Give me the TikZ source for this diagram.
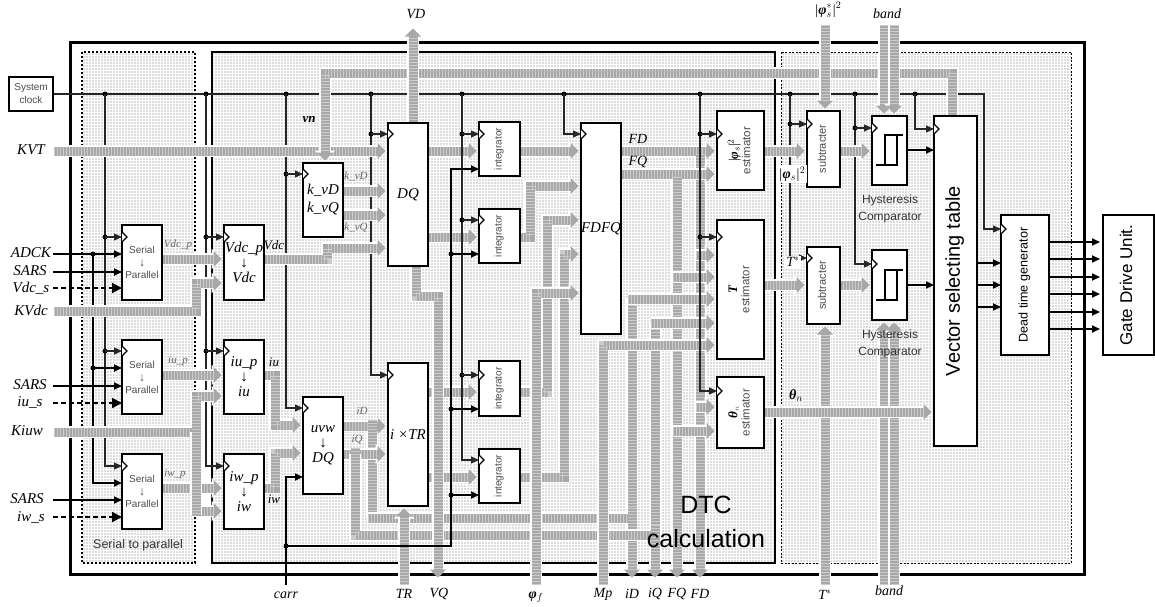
\documentclass[tikz,border=0pt]{standalone}
\usepackage{fontspec}
\setmainfont{Liberation Serif}
\newfontfamily\gsans{Liberation Sans}
\usetikzlibrary{arrows.meta,patterns.meta,calc}
\pgfdeclarelayer{bg}\pgfdeclarelayer{under}\pgfdeclarelayer{bus}\pgfdeclarelayer{over}
\pgfsetlayers{bg,under,bus,over,main}
\newcommand\fsz[1]{\fontsize{#1}{#1}\selectfont}
\definecolor{busc}{gray}{0.66}
\definecolor{busd}{gray}{0.80}
\tikzset{
 ln/.style={line width=1.1pt,black!85},
 thk/.style={line width=1.7pt,black},
 arr/.style={-{Triangle[length=8pt,width=7pt]}},
 dsh/.style={line width=2pt,dash pattern=on 5pt off 3pt,black},
 busp/.style={line width=9pt,busc,line join=miter,postaction={draw=busd,line width=9pt,dash pattern=on 1pt off 2pt,-}},
 bus/.style={line width=9pt,busc,line join=miter,shorten >=2.5pt,-{Triangle[width=16pt,length=8pt]},
   preaction={draw=white,line width=11.5pt,-{Triangle[width=20pt,length=10pt]}},
   postaction={draw=busd,line width=9pt,dash pattern=on 1pt off 2pt,-,shorten >=10.5pt}},
 busl/.style={busp,preaction={draw=white,line width=11.5pt}},
 dot/.style={circle,fill=black,inner sep=0pt,minimum size=5pt},
 block/.style={draw,fill=white,line width=1.5pt,inner sep=0pt,outer sep=0pt,anchor=north west,align=center},
 ser/.style={block,gsn},
 gsn/.style={font=\gsans\fsz{10},text=black!70},
 it/.style={font=\itshape\fsz{15}},
 lab/.style={font=\itshape\fsz{14},inner sep=0pt},
 sml/.style={font=\itshape\fsz{11},inner sep=0pt,text=black!60},
 sl/.style={font=\gsans\fsz{12},inner sep=0pt,text=black!80,align=center},
 area/.style={pattern={Dots[distance=3pt,radius=0.55pt]},pattern color=black!60},
}
\newcommand\blk[6][block]{%
 \pgfmathsetmacro\bw{#4-#2}\pgfmathsetmacro\bh{#5-#3}%
 \node[#1,minimum width=\bw pt,minimum height=\bh pt] (#6) at (#2,#3) }
\newcommand\clk[2]{\draw[line width=1.1pt,fill=white] ($(#1.west|-0,#2)+(0,-5)$) -- ++(5,5) -- ++(-5,5);}
\newcommand\tap[3]{\node[dot] at (#1,#2) {}; \draw[ln,arr] (#1,#2) -- (#3.west|-0,#2);}
\newcommand\taq[3]{\node[dot] at (#1,#2) {}; \draw[thk,arr] (#1,#2) -- (#3.west|-0,#2);}
\newcommand\rot[2][]{\rotatebox{90}{\begin{tabular}{@{}c@{}}#2\end{tabular}}}
\newcommand\hyst[2]{\draw[line width=1.5pt] ($(#1.north west)+(4,#2)$) -- ++(21,0) -- ++(0,-30) ++(6,0) -- ++(-18,0) -- ++(0,30);}
\newcommand\sertext{Serial\\[3pt]{\fsz{12}↓}\\[2pt]Parallel}
\newcommand\darr{{\upshape\fsz{15}↓}}
\begin{document}
\begin{tikzpicture}[x=1pt,y=-1pt]
\useasboundingbox (0,0) rectangle (1155,606);
% ---- blocks (top layer)
\node[draw,fill=white,line width=1.5pt,minimum width=44pt,minimum height=34pt,inner sep=0pt,outer sep=0pt,anchor=north west,gsn,align=center] (sys) at (9,77) {System\\[3pt]clock};
\blk[ser]{122}{225}{162}{300}{ser1}{\sertext};
\blk[ser]{122}{340}{162}{414}{ser2}{\sertext};
\blk[ser]{122}{454}{162}{529}{ser3}{\sertext};
\blk[block,it]{224}{225}{264}{300}{vdc}{Vdc\_p\\[0pt]\darr\\[0pt]Vdc};
\blk[block,it]{224}{340}{264}{414}{iu}{iu\_p\\[0pt]\darr\\[0pt]iu};
\blk[block,it]{224}{454}{264}{529}{iw}{iw\_p\\[0pt]\darr\\[0pt]iw};
\blk[block,it]{303}{163}{343}{237}{kv}{k\_vD\\[3pt]k\_vQ};
\blk[block,it]{303}{397}{343}{494}{uvw}{uvw\\[0pt]\darr\\[0pt]DQ};
\blk[block,it]{388}{123}{428}{266}{DQ}{DQ};
\blk[block,it]{388}{363}{428}{506}{ixtr}{i ×TR};
\blk[ser]{479}{122}{520}{176}{intA}{\rot{integrator}};
\blk[ser]{479}{209}{520}{263}{intB}{\rot{integrator}};
\blk[ser]{479}{361}{520}{416}{intC}{\rot{integrator}};
\blk[ser]{479}{449}{520}{503}{intD}{\rot{integrator}};
\blk[block,it]{581}{123}{621}{334}{fdfq}{FDFQ};
\blk[ser]{717}{111}{764}{190}{est}{\rot{{\rmfamily\color{black}\fsz{13}|\textbf{\itshape φ}$_{s}$|$^{2}$}\\[1pt]\fsz{11.5}estimator}};
\blk[ser]{717}{220}{764}{359}{Test}{\rot{{\rmfamily\color{black}\bfseries\itshape\fsz{13}T}\\[1pt]\fsz{11.5}estimator}};
\blk[ser]{717}{377}{764}{448}{thest}{\rot{{\rmfamily\color{black}\bfseries\itshape\fsz{13}θ}$_{n}$\\[1pt]\fsz{11.5}estimator}};
\blk[ser]{807}{111}{840}{187}{subA}{\rot{\fsz{11}subtracter}};
\blk[ser]{807}{247}{840}{324}{subB}{\rot{\fsz{11}subtracter}};
\blk{872}{116}{907}{185}{hysA}{};
\blk{872}{250}{907}{320}{hysB}{};
\hyst{hysA}{49}\hyst{hysB}{50}
\blk[block,font=\gsans\fsz{20}]{934}{116}{977}{446}{vec}{\rot{Vector selecting table}};
\blk[block,font=\gsans\fsz{12.6}]{1001}{215}{1049}{355}{dead}{\rot{Dead time generator}};
\blk[block,font=\gsans\fsz{17}]{1103}{215}{1154}{355}{gate}{\rot{Gate Drive Unit.}};
\foreach \n/\y in {ser1/237,ser2/351,ser3/466,vdc/237,iu/351,iw/466,kv/174,uvw/408,DQ/134,ixtr/375,intA/134,intB/220,intC/375,intD/460,fdfq/134,est/134,Test/237,thest/391,subA/124,subB/258,hysA/128,hysB/264,vec/129,dead/229}{\clk{\n}{\y}}
% ---- labels
\node[lab,font=\itshape\fsz{15}] (lKVT) at (31,150) {KVT};
\node[lab,font=\itshape\fsz{15}] (lADCK) at (31,253) {ADCK};
\node[lab,font=\itshape\fsz{15}] (lS1) at (30,271) {SARS};
\node[lab,font=\itshape\fsz{15}] (lVs) at (31,288) {Vdc\_s};
\node[lab,font=\itshape\fsz{15}] (lKVdc) at (31,310) {KVdc};
\node[lab,font=\itshape\fsz{15}] (lS2) at (30,385) {SARS};
\node[lab,font=\itshape\fsz{15}] (lius) at (30,402) {iu\_s};
\node[lab,font=\itshape\fsz{15}] (lK) at (27,431) {Kiuw};
\node[lab,font=\itshape\fsz{15}] (lS3) at (27,499) {SARS};
\node[lab,font=\itshape\fsz{15}] (liws) at (31,517) {iw\_s};
\node[lab] (lVD) at (416,14) {VD};
\node[lab] at (828,10) {|{\bfseries φ}$_{s}^{*}$|$^{2}$};
\node[lab] (lb1) at (887,14) {band};
\node[lab] (lcarr) at (286,595) {carr};
\node[lab] (lTR) at (404,594) {TR};
\node[lab] (lVQ) at (439,594) {VQ};
\node[lab] (lf) at (536,597) {{\bfseries φ}$_{f}$};
\node[lab] (lMp) at (603,594) {Mp};
\node[lab] (liD) at (632,594) {iD};
\node[lab] (liQ) at (655,594) {iQ};
\node[lab] (lFQ) at (677,594) {FQ};
\node[lab] (lFD) at (700,594) {FD};
\node[lab] (lT) at (825,595) {T$^{*}$};
\node[lab] (lb2) at (889,591) {band};
\node[lab,font=\bfseries\itshape\fsz{13}] at (309,119) {vn};
\node[sml] at (356,176) {k\_vD};
\node[sml] at (356,228) {k\_vQ};
\node[sml] at (178,245) {Vdc\_p};
\node[sml] at (178,361) {iu\_p};
\node[sml] at (175,474) {iw\_p};
\node[lab,font=\itshape\fsz{13}] at (274,245) {Vdc};
\node[lab,font=\itshape\fsz{13}] at (274,362) {iu};
\node[lab,font=\itshape\fsz{13}] at (274,499) {iw};
\node[sml] at (362,411) {iD};
\node[sml] at (357,440) {iQ};
\node[lab] at (638,139) {FD};
\node[lab] at (638,162) {FQ};
\node[lab,fill=white,inner sep=1.5pt] at (792,174) {|{\bfseries φ}$_{s}$|$^{2}$};
\node[lab,fill=white,inner sep=1pt] at (793,262) {T$^{*}$};
\node[lab] at (796,396) {{\bfseries θ}$_{n}$};
\node[sl,font=\gsans\fsz{12.5}] at (138,545) {Serial to parallel};
\node[sl] at (890,208.5) {Hysteresis\\[5pt]Comparator};
\node[sl] at (890,343.5) {Hysteresis\\[5pt]Comparator};
\node[font=\gsans\fsz{25},inner sep=0pt,align=center] at (706,522) {DTC\\[9pt]calculation};
% ---- free ends
\foreach \c/\x/\y in {inKVT/54/151,inKVdc/54/311,inK/54/432,inA/53/254,inS1/53/272,inV/53/288,inS2/53/386,inU/53/403,inS3/53/500,inW/53/517,
 vdT/413/26,vnR/952/73,vnL/325/73,carrE/286/585,trE/404/585,vqE/438/580,fE/536/585,mpE/603/585,iDE/632/580,iQE/655/580,fqE/677/580,fdE/700/580,
 phT/825/25,bA/884/25,bB/894/25,tsE/825/585,bC/884/585,bD/894/585}{\coordinate (\c) at (\x,\y);}
% ---- areas
\begin{pgfonlayer}{bg}
\draw[line width=3pt] (70,42) rectangle (1084,574);
\path[area] (82,52) rectangle (195,563);
\draw[line width=1.8pt,dash pattern=on 2pt off 2pt] (82,52) rectangle (195,563);
\path[area] (212,52) rectangle (775,563);
\draw[line width=1.3pt] (212,52) rectangle (775,563);
\path[area] (781,52) rectangle (1071,563);
\draw[line width=1pt,dash pattern=on 2pt off 1.5pt] (781,52) rectangle (1071,563);
\end{pgfonlayer}
% ---- lines below the buses
\begin{pgfonlayer}{under}
\draw[ln,arr] (sys.east) -- (984,94) -- (984,229) -- (dead.west|-0,229);
\foreach \x in {105,206,286,371,462,564,700,790,855,915}{\node[dot] at (\x,94) {};}
\draw[ln,arr] (105,94) |- (ser3.west|-0,466); \tap{105}{237}{ser1} \tap{105}{351}{ser2}
\draw[ln,arr] (206,94) |- (iw.west|-0,466); \tap{206}{237}{vdc} \tap{206}{351}{iu}
\draw[ln,arr] (286,94) |- (uvw.west|-0,408); \tap{286}{174}{kv}
\draw[ln,arr] (371,94) |- (ixtr.west|-0,375); \tap{371}{134}{DQ}
\draw[ln,arr] (564,94) |- (fdfq.west|-0,134);
\draw[ln,arr] (790,94) |- (subB.west|-0,258); \tap{790}{124}{subA}
\draw[ln,arr] (855,94) |- (hysB.west|-0,264); \tap{855}{128}{hysA}
\draw[ln,arr] (915,94) |- (vec.west|-0,129);
\draw[thk,arr] (carrE) |- (uvw.west|-0,477);
\draw[thk,arr] (inA) -- (ser1.west|-inA); \node[dot] at (93,254) {};
\draw[thk,arr] (93,254) |- (ser3.west|-0,483); \taq{93}{368}{ser2}
\foreach \s/\t in {inS1/ser1,inS2/ser2,inS3/ser3}{\draw[thk,arr] (\s) -- (\t.west|-\s);}
\foreach \s/\t in {inV/ser1,inU/ser2,inW/ser3}{\draw[dsh,-{Triangle[length=10pt,width=10pt]}] (\s) -- (\t.west|-\s);}
\end{pgfonlayer}
% ---- buses
\begin{pgfonlayer}{bus}
\draw[bus] (inKVT) -- (DQ.west|-inKVT);
\draw[bus] (vec.north-|vnR) -- (vnR) -- (vnL) -- (kv.north-|vnL);
\draw[bus] (DQ.north-|vdT) -- (vdT);
\draw[bus] (kv.east|-0,191) -- (DQ.west|-0,191);
\draw[bus] (kv.east|-0,215) -- (DQ.west|-0,215);
\draw[bus] (ser1.east|-0,259) -- (vdc.west|-0,259);
\draw[bus] (ser2.east|-0,375) -- (iu.west|-0,375);
\draw[bus] (ser3.east|-0,488) -- (iw.west|-0,488);
\draw[bus] (inKVdc) -- (196,311) -- (196,283) -- (vdc.west|-0,283);
\draw[bus] (inK) -- (196,432) -- (196,396) -- (iu.west|-0,396);
\draw[bus] (192,511) -- (iw.west|-0,511);
\draw[busl] (196,432) -- (196,515);
\draw[busp] (196,426) -- (196,440);
\draw[bus] (vdc.east|-0,259) -- (327,259) -- (327,248) -- (DQ.west|-0,248);
\draw[bus] (iu.east|-0,375) -- (275,375) -- (275,425) -- (uvw.west|-0,425);
\draw[bus] (iw.east|-0,488) -- (275,488) -- (275,453) -- (uvw.west|-0,453);
% iD and iQ feedback
\draw[busl] (372,426) -- (372,518);
\draw[bus] (700,151) -- (fdE);
\draw[bus] (677,174) -- (fqE);
\draw[bus] (uvw.east|-0,426) -- (ixtr.west|-0,426);
\draw[busp] (372,420) -- (372,436);
\draw[bus] (uvw.east|-0,454) -- (ixtr.west|-0,454);
\draw[bus] (632,299) -- (iDE);
\draw[bus] (655,323) -- (iQE);
\draw[busl] (368,518) -- (632,518);
\draw[busp] (632,508) -- (632,528);
\draw[busl] (355,454) -- (355,535) -- (655,535);
\draw[busp] (355,448) -- (355,464);
\draw[busp] (655,525) -- (655,545);
\draw[bus] (628,299) -- (Test.west|-0,299);
\draw[bus] (651,323) -- (Test.west|-0,323);
\draw[bus] (mpE) |- (Test.west|-0,345);
\draw[bus] (696,255) -- (Test.west|-0,255);
\draw[bus] (673,277) -- (Test.west|-0,277);
\draw[bus] (696,407) -- (thest.west|-0,407);
\draw[bus] (673,431) -- (thest.west|-0,431);
% FD, FQ
\draw[bus] (fdfq.east|-0,151) -- (est.west|-0,151);
\draw[bus] (fdfq.east|-0,174) -- (est.west|-0,174);
\draw[busp] (700,154) -- (700,162);
\draw[busp] (677,177) -- (677,185);
% integrators
\draw[bus] (DQ.east|-0,151) -- (intA.west|-0,151);
\draw[bus] (DQ.east|-0,237) -- (intB.west|-0,237);
\draw[bus] (ixtr.east|-0,392) -- (intC.west|-0,392);
\draw[bus] (ixtr.east|-0,477) -- (intD.west|-0,477);
\draw[bus] (intA.east|-0,151) -- (fdfq.west|-0,151);
\draw[bus] (intB.east|-0,237) -- (530,237) -- (530,186) -- (fdfq.west|-0,186);
\draw[bus] (intC.east|-0,392) -- (547,392) -- (547,220) -- (fdfq.west|-0,220);
\draw[bus] (intD.east|-0,477) -- (564,477) -- (564,254) -- (fdfq.west|-0,254);
\draw[bus] (fE) |- (fdfq.west|-0,293);
\draw[bus] (DQ.south-|416,0) -- (416,296) -- (438,296) -- (vqE);
\draw[bus] (trE) -- (ixtr.south-|trE);
% right part
\draw[bus] (phT) -- (subA.north-|phT);
\draw[bus] (bA) -- (hysA.north-|bA);
\draw[bus] (bB) -- (hysA.north-|bB);
\draw[bus] (tsE) -- (subB.south-|tsE);
\draw[bus] (bC) -- (hysB.south-|bC);
\draw[bus] (bD) -- (hysB.south-|bD);
\draw[bus] (est.east|-0,151) -- (subA.west|-0,151);
\draw[bus] (subA.east|-0,151) -- (hysA.west|-0,151);
\draw[bus] (Test.east|-0,285) -- (subB.west|-0,285);
\draw[bus] (subB.east|-0,285) -- (hysB.west|-0,285);
\draw[bus] (thest.east|-0,412) -- (vec.west|-0,412);
\end{pgfonlayer}
% ---- lines above the buses
\begin{pgfonlayer}{over}
\draw[ln,arr] (462,94) |- (intD.west|-0,460); \tap{462}{134}{intA} \tap{462}{220}{intB} \tap{462}{375}{intC}
\draw[ln,line width=1.4pt,arr] (700,94) |- (thest.west|-0,391); \tap{700}{134}{est} \tap{700}{237}{Test}
\node[dot] at (286,546) {};
\draw[thk,arr] (286,546) -- (451,546) -- (451,169) -- (intA.west|-0,169);
\taq{451}{254}{intB} \taq{451}{409}{intC} \taq{451}{495}{intD}
\draw[thk,arr] (hysA.east|-0,150) -- (vec.west|-0,150);
\draw[thk,arr] (hysB.east|-0,285) -- (vec.west|-0,285);
\foreach \y in {263,285,307}{\draw[thk,arr] (vec.east|-0,\y) -- (dead.west|-0,\y);}
\foreach \y in {242,259,277,294,312,329}{\draw[thk,arr] (dead.east|-0,\y) -- ($(gate.west|-0,\y)+(-3,0)$);}
\end{pgfonlayer}
\end{tikzpicture}
\end{document}
